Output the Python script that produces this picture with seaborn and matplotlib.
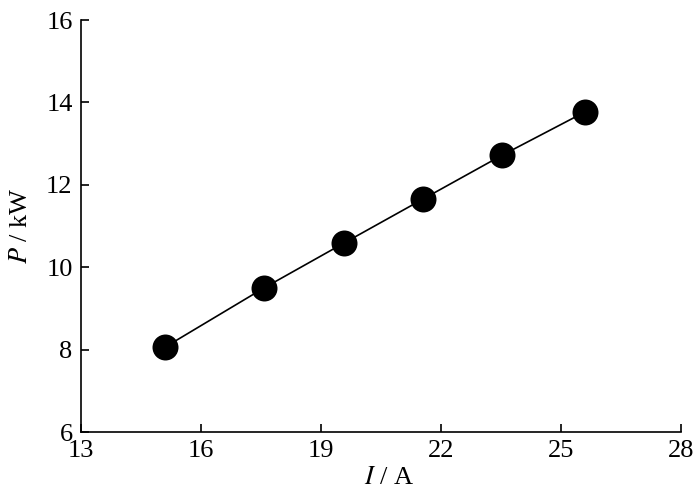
import numpy as np
import matplotlib
matplotlib.use("Agg")
import matplotlib.pyplot as plt
import pandas as pd
import seaborn as sns

current = [15.1, 17.58, 19.58, 21.56, 23.53, 25.6]
power = [8.06, 9.50, 10.59, 11.66, 12.72, 13.77]
xticks = [13, 16, 19, 22, 25, 28]
yticks = [6, 8, 10, 12, 14, 16]

sns.set_style("ticks")
plt.rcParams['font.family'] = ['Liberation Serif', 'DejaVu Serif']
plt.rcParams['mathtext.fontset'] = 'stix'

df = pd.DataFrame({'I': current, 'P': power})

fig = plt.figure(figsize=(7, 5.01), dpi=100)
ax = fig.add_axes([0.1157, 0.1377, 0.8572, 0.8223])
sns.lineplot(data=df, x='I', y='P', color='black', linewidth=1.2, ax=ax)
sns.scatterplot(data=df, x='I', y='P', color='black', s=350, edgecolor='black',
                linewidth=0, zorder=3, ax=ax)

ax.set_xlim(13, 28)
ax.set_ylim(6, 16)
ax.set_xticks(xticks)
ax.set_yticks(yticks)
ax.tick_params(direction='in', length=6, width=1.2, labelsize=19, colors='black', pad=6)
for s in ['left', 'bottom']:
    ax.spines[s].set_linewidth(1.2)
    ax.spines[s].set_color('black')
sns.despine(ax=ax)
ax.set_xlabel(r'$\it{I}$ / A', fontsize=19, labelpad=1, color='black')
ax.set_ylabel(r'$\it{P}$ / kW', fontsize=19, labelpad=10, color='black')
ax.xaxis.set_label_coords(0.513, -0.085)

fig.savefig('out.png', dpi=100)
